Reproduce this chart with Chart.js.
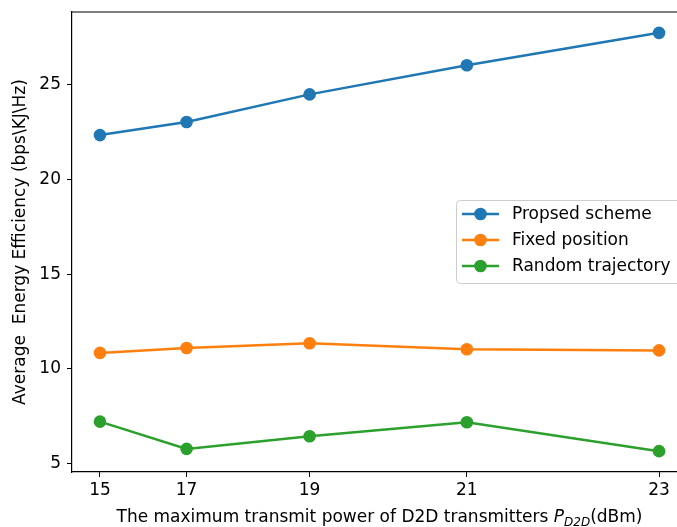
<!DOCTYPE html>
<html>
<head>
<meta charset="utf-8">
<script src="https://cdn.jsdelivr.net/npm/chart.js@4.4.1/dist/chart.umd.min.js"></script>
<style>
  html, body { margin: 0; padding: 0; background: #fff; overflow: hidden; }
  #wrap { width: 677px; height: 527px; overflow: hidden; }
</style>
</head>
<body>
<div id="wrap"><canvas id="chart" width="700" height="527"></canvas></div>
<script>
// data
const xTickLabels = ['15', '17', '19', '21', '23'];
const xPositions = [15, 16.24, 18, 20.25, 23];   // where each power level sits on the axis
const proposed = [22.35, 23.04, 24.50, 26.04, 27.75];
const fixedPosition = [10.85, 11.11, 11.36, 11.04, 10.98];
const randomTrajectory = [7.22, 5.78, 6.45, 7.19, 5.66];
const yTicks = [5, 10, 15, 20, 25];

const FONT = 'DejaVu Sans';
const FS = 17;

function points(values) {
    return xPositions.map((x, i) => ({ x: x, y: values[i] }));
}

function series(label, values, color) {
    return {
        label: label,
        data: points(values),
        borderColor: color,
        backgroundColor: color,
        borderWidth: 2.5,
        pointRadius: 6.3,
        pointHoverRadius: 6.3,
        pointBorderWidth: 0,
        pointBackgroundColor: color,
        tension: 0
    };
}

// top spine, x title with subscript, and boxed legend inside the plot
const extras = {
    id: 'extras',
    afterDraw(chart) {
        const { ctx, chartArea: { top, left, right, bottom } } = chart;
        ctx.save();

        ctx.strokeStyle = '#000';
        ctx.lineWidth = 1.2;
        ctx.beginPath();
        ctx.moveTo(left, Math.round(top));
        ctx.lineTo(right, Math.round(top));
        ctx.stroke();

        // x axis title
        const parts = [
            { t: 'The maximum transmit power of D2D transmitters ', f: FS + 'px "' + FONT + '"', dy: 0 },
            { t: 'P', f: 'italic ' + FS + 'px "' + FONT + '"', dy: 0 },
            { t: 'D2D', f: 'italic 12px "' + FONT + '"', dy: 4 },
            { t: '(dBm)', f: FS + 'px "' + FONT + '"', dy: 0 }
        ];
        let total = 0;
        parts.forEach(p => { ctx.font = p.f; p.w = ctx.measureText(p.t).width; total += p.w; });
        let x = (left + right) / 2 - total / 2;
        const baseY = 522;
        ctx.fillStyle = '#000';
        ctx.textBaseline = 'alphabetic';
        ctx.textAlign = 'left';
        parts.forEach(p => {
            ctx.font = p.f;
            ctx.fillText(p.t, x, baseY + p.dy);
            x += p.w;
        });

        // legend
        const bx = 456, by = 200, bw = 226, bh = 83, r = 4;
        ctx.beginPath();
        ctx.roundRect(bx + 0.5, by + 0.5, bw, bh, r);
        ctx.fillStyle = 'rgba(255,255,255,0.8)';
        ctx.fill();
        ctx.strokeStyle = '#cccccc';
        ctx.lineWidth = 1;
        ctx.stroke();

        const rows = [214, 240, 266];
        chart.data.datasets.forEach((ds, i) => {
            const y = rows[i];
            ctx.strokeStyle = ds.borderColor;
            ctx.lineWidth = 2.5;
            ctx.beginPath();
            ctx.moveTo(462, y);
            ctx.lineTo(499, y);
            ctx.stroke();
            ctx.fillStyle = ds.borderColor;
            ctx.beginPath();
            ctx.arc(480.5, y, 6.3, 0, Math.PI * 2);
            ctx.fill();
            ctx.fillStyle = '#000';
            ctx.font = FS + 'px "' + FONT + '"';
            ctx.textBaseline = 'middle';
            ctx.fillText(ds.label, 512, y + 1);
        });

        ctx.restore();
    }
};

const ctx = document.getElementById('chart').getContext('2d');
new Chart(ctx, {
    type: 'line',
    data: {
        datasets: [
            series('Propsed scheme', proposed, '#1f77b4'),
            series('Fixed position', fixedPosition, '#ff7f0e'),
            series('Random trajectory', randomTrajectory, '#2ca02c')
        ]
    },
    options: {
        responsive: false,
        animation: false,
        devicePixelRatio: 1,
        layout: { padding: { top: 12, right: 13, left: 0, bottom: 0 } },
        plugins: {
            legend: { display: false },
            tooltip: { enabled: false }
        },
        scales: {
            x: {
                type: 'linear',
                min: 14.6,
                max: 23.4,
                afterBuildTicks: (axis) => { axis.ticks = xPositions.map(v => ({ value: v })); },
                afterFit: (axis) => {
                    axis.height = 55;
                    axis.paddingLeft = 0;
                    axis.paddingRight = 0;
                },
                grid: { drawOnChartArea: false, drawTicks: true, tickLength: 5, color: '#000' },
                border: { display: true, color: '#000', width: 1.2 },
                ticks: {
                    color: '#000',
                    font: { family: FONT, size: FS },
                    padding: 3,
                    autoSkip: false,
                    maxRotation: 0,
                    callback: (value) => {
                        const i = xPositions.indexOf(value);
                        return i >= 0 ? xTickLabels[i] : '';
                    }
                }
            },
            y: {
                min: 4.56,
                max: 28.85,
                afterBuildTicks: (axis) => { axis.ticks = yTicks.map(v => ({ value: v })); },
                afterFit: (axis) => {
                    axis.width = 72;
                    axis.paddingTop = 0;
                    axis.paddingBottom = 0;
                },
                grid: { drawOnChartArea: false, drawTicks: true, tickLength: 5, color: '#000' },
                border: { display: true, color: '#000', width: 1.2 },
                ticks: {
                    color: '#000',
                    font: { family: FONT, size: FS },
                    padding: 6
                },
                title: {
                    display: true,
                    text: 'Average  Energy Efficiency (bps\\KJ\\Hz)',
                    color: '#000',
                    font: { family: FONT, size: FS },
                    padding: { top: 10, bottom: 0 }
                }
            }
        }
    },
    plugins: [extras]
});
</script>
</body>
</html>
